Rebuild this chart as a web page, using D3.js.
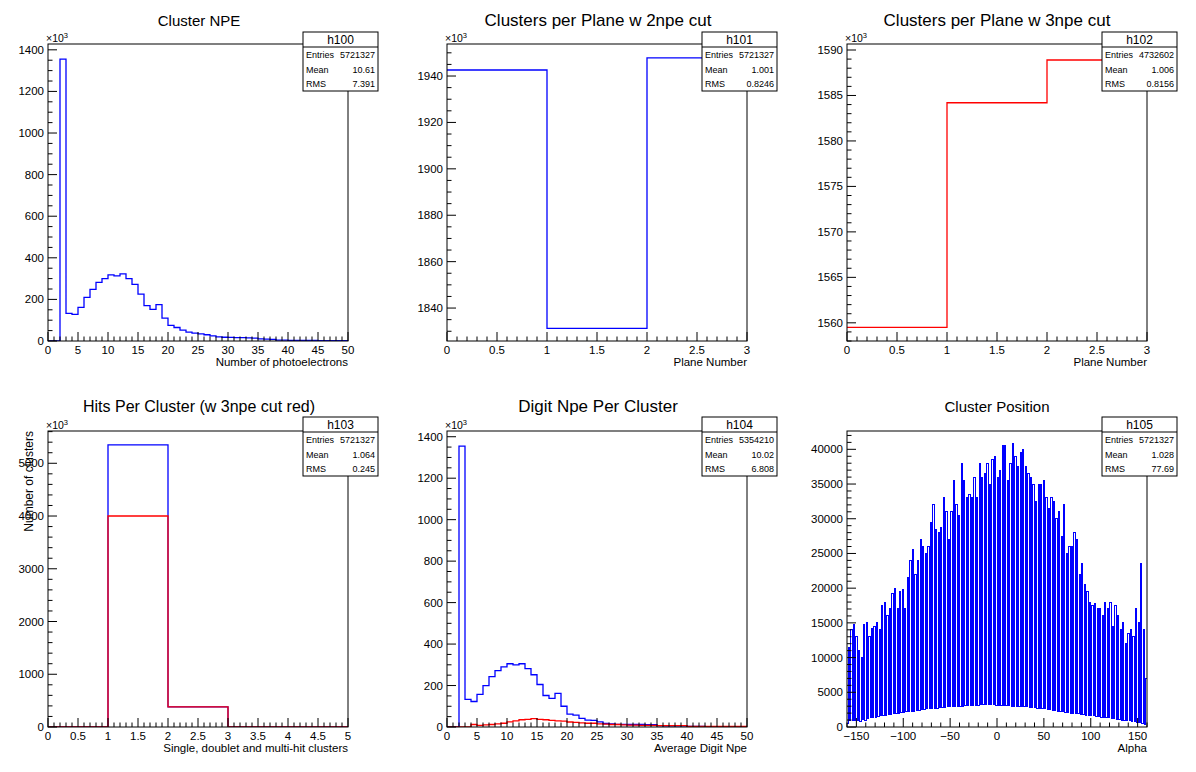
<!DOCTYPE html>
<html><head><meta charset="utf-8">
<script src="https://cdn.jsdelivr.net/npm/d3@7"></script>
<style>body{margin:0;background:#fff}svg{display:block;font-family:"Liberation Sans",Arial,sans-serif}</style>
</head><body><div id="app"></div>
<script>
// h100 Cluster NPE (x10^3), bins of width 1 from 0 to 50
const npe = [0,0,1355,133,128,162,210,248,282,300,318,313,323,300,272,225,170,152,175,110,75,65,52,43,38,34,30,25,20,18,17,16,16,15,14,10,9,8,4,4,3,3,3,3,3,2,2,2,2,2]
// h101 / h102 clusters per plane (x10^3)
const plane2 = [1942.6, 1831.2, 1947.8]
const plane3 = [1559.5, 1584.2, 1588.9]
// h103 hits per cluster (x10^3), bins of width 1 from 0 to 5
const hitsAll = [0, 5350, 380, 0, 0]
const hitsCut = [0, 4000, 380, 0, 0]
// h104 digit npe per cluster (x10^3)
const digitAll = [0,0,1355,133,123,157,200,243,272,290,305,300,305,282,252,205,152,138,162,100,62,57,42,33,32,25,17,15,13,13,12,12,12,11,11,7,6,6,5,5,3,3,3,2,2,2,2,2,2,2]
const digitCut = [0,0,0,0,12,8,10,12,15,18,25,30,35,37,40,37,35,32,30,28,24,22,20,18,18,15,14,12,12,10,9,9,8,8,8,7,7,7,7,7,3,3,3,3,3,3,3,3,3,3]
// h105 cluster position: alternating low / high bins from -160 to 160
const posPeaks = [11500,14000,14800,13000,11000,10000,14800,15000,13000,14200,
  14500,15000,14000,17500,18000,16000,17000,19200,20000,17000,
  19500,19800,17000,21500,24000,25500,22000,24000,27000,26000,
  25000,26000,29500,32000,28500,28000,28800,33000,31000,27000,
  31000,35500,32000,30500,38000,35500,33000,33500,33000,36000,
  33000,38000,36000,36500,38000,35000,38500,39000,36000,37000,
  40500,40500,35500,38000,40800,39000,37500,39500,40000,37500,
  36500,36000,35000,32500,35000,35000,35500,33000,31500,33000,
  32500,30000,31000,27500,32000,25000,26000,26000,28000,27000,
  22000,23500,20500,19500,18000,17500,17800,17000,17000,16000,
  18000,17000,18000,14500,17500,16000,14000,15000,12000,13500,
  14000,13000,17000,15000,23500,14000,7000]
const posTroughs = [500,900,1000,1000,900,800,1100,1000,1200,1300,
  1400,1400,1500,1600,1700,1700,1800,1800,1900,1900,
  2000,2100,2100,2200,2200,2300,2300,2400,2400,2500,
  2500,2600,2600,2700,2700,2700,2800,2800,2800,2900,
  2900,2900,3000,3000,3000,3000,3100,3100,3100,3100,
  3100,3100,3200,3200,3200,3200,3200,3200,3100,3100,
  3100,3100,3100,3100,3000,3000,3000,3000,2900,2900,
  2900,2800,2800,2800,2700,2700,2600,2600,2500,2500,
  2400,2400,2300,2300,2200,2100,2100,2000,2000,1900,
  1900,1800,1800,1700,1700,1600,1600,1500,1500,1400,
  1400,1300,1300,1200,1200,1100,1100,1000,1000,900,
  900,800,800,700,600,500,400]
const posValues = posTroughs.flatMap((t, i) => [t, posPeaks[i]])

const width = 1196, height = 772
const svg = d3.select('#app').append('svg').attr('width', width).attr('height', height)

const edges = (lo, hi, n) => d3.range(n + 1).map(i => lo + (hi - lo) * i / n)

const panels = [
  {ox: 0, oy: 0, title: 'Cluster NPE', ts: 15, name: 'h100', stats: ['5721327', '10.61', '7.391'],
   x: [0, 50], y: [0, 1428], xMaj: 5, xMin: 1, yMaj: 200, yMin: 50, exp: true, xlabel: 'Number of photoelectrons',
   series: [{v: npe, c: '#0000ff'}], nx: 50},
  {ox: 399, oy: 0, title: 'Clusters per Plane w 2npe cut', ts: 17, name: 'h101', stats: ['5721327', '1.001', '0.8246'],
   x: [0, 3], y: [1825.8, 1953.8], xMaj: 0.5, xMin: 0.1, yMaj: 20, yMin: 5, exp: true, xlabel: 'Plane Number',
   series: [{v: plane2, c: '#0000ff'}], nx: 3},
  {ox: 798, oy: 0, title: 'Clusters per Plane w 3npe cut', ts: 17, name: 'h102', stats: ['4732602', '1.006', '0.8156'],
   x: [0, 3], y: [1558.0, 1590.66], xMaj: 0.5, xMin: 0.1, yMaj: 5, yMin: 1, exp: true, xlabel: 'Plane Number',
   series: [{v: plane3, c: '#ff0000'}], nx: 3},
  {ox: 0, oy: 386, title: 'Hits Per Cluster (w 3npe cut red)', ts: 16, name: 'h103', stats: ['5721327', '1.064', '0.245'],
   x: [0, 5], y: [0, 5612], xMaj: 0.5, xMin: 0.1, yMaj: 1000, yMin: 200, exp: true, xlabel: 'Single, doublet and multi-hit clusters',
   ylabel: 'Number of clusters', series: [{v: hitsAll, c: '#0000ff'}, {v: hitsCut, c: '#ff0000'}], nx: 5},
  {ox: 399, oy: 386, title: 'Digit Npe Per Cluster', ts: 17, name: 'h104', stats: ['5354210', '10.02', '6.808'],
   x: [0, 50], y: [0, 1427.6], xMaj: 5, xMin: 1, yMaj: 200, yMin: 50, exp: true, xlabel: 'Average Digit Npe',
   series: [{v: digitAll, c: '#0000ff'}, {v: digitCut, c: '#ff0000'}], nx: 50},
  {ox: 798, oy: 386, title: 'Cluster Position', ts: 15, name: 'h105', stats: ['5721327', '1.028', '77.69'],
   x: [-160, 160], y: [0, 42640], xMaj: 50, xMin: 10, yMaj: 5000, yMin: 1000, exp: false, xlabel: 'Alpha',
   series: [{v: posValues, c: '#0000ff', w: 1, crisp: true}], nx: posValues.length}
]

const fmt = v => {
  const r = Math.round(v * 1000) / 1000
  return String(r).replace('-', '\u2212')
}

panels.forEach((p, pi) => {
  const L = p.ox + 48 + (pi % 3 === 2 ? 1 : 0), R = L + 300
  const T = p.oy + 44 + (p.oy ? 1 : 0), B = p.oy + 341
  const g = svg.append('g')
  const sx = d3.scaleLinear().domain(p.x).range([L, R])
  const sy = d3.scaleLinear().domain(p.y).range([B, T])
  const clipId = 'clip' + pi
  g.append('clipPath').attr('id', clipId).append('rect').attr('x', L).attr('y', T).attr('width', R - L).attr('height', B - T)

  // histogram outlines
  p.series.forEach(s => {
    const e = edges(p.x[0], p.x[1], p.nx)
    const pts = []
    s.v.forEach((v, i) => { pts.push([e[i], v]); pts.push([e[i + 1], v]) })
    g.append('path')
      .attr('clip-path', `url(#${clipId})`)
      .attr('d', d3.line().x(d => sx(d[0])).y(d => sy(Math.max(d[1], p.y[0]))) (pts))
      .attr('fill', 'none').attr('stroke', s.c).attr('stroke-width', s.w || 1.3)
      .attr('shape-rendering', s.crisp ? 'crispEdges' : null)
  })

  // frame
  g.append('rect').attr('x', L).attr('y', T).attr('width', R - L).attr('height', B - T)
    .attr('fill', 'none').attr('stroke', '#000').attr('stroke-width', 1)

  // x ticks (inside, pointing up)
  const xMinor = d3.range(Math.ceil(p.x[0] / p.xMin), Math.floor(p.x[1] / p.xMin) + 1).map(k => k * p.xMin)
  xMinor.forEach(v => {
    const major = Math.abs(v / p.xMaj - Math.round(v / p.xMaj)) < 1e-6
    g.append('line').attr('x1', sx(v)).attr('x2', sx(v)).attr('y1', B).attr('y2', B - (major ? 9 : 4.5))
      .attr('stroke', '#000')
    if (major) g.append('text').attr('x', sx(v)).attr('y', B + 13).attr('text-anchor', 'middle')
      .attr('font-size', 11.5).text(fmt(v))
  })
  // y ticks (inside, pointing right)
  const yMinor = d3.range(Math.ceil(p.y[0] / p.yMin), Math.floor(p.y[1] / p.yMin) + 1).map(k => k * p.yMin)
  yMinor.forEach(v => {
    const major = Math.abs(v / p.yMaj - Math.round(v / p.yMaj)) < 1e-6
    g.append('line').attr('x1', L).attr('x2', L + (major ? 9 : 4.5)).attr('y1', sy(v)).attr('y2', sy(v))
      .attr('stroke', '#000')
    if (major) g.append('text').attr('x', L - 4).attr('y', sy(v) + 4).attr('text-anchor', 'end')
      .attr('font-size', 11.5).text(fmt(v))
  })
  if (p.exp) {
    const t = g.append('text').attr('x', L - 2).attr('y', T - 2).attr('font-size', 10.5)
    t.append('tspan').text('\u00d710')
    t.append('tspan').attr('dy', -4).attr('font-size', 7.5).text('3')
  }
  g.append('text').attr('x', R).attr('y', B + 25).attr('text-anchor', 'end').attr('font-size', 11.5).text(p.xlabel)
  if (p.ylabel) g.append('text').attr('transform', `translate(${L - 15},${T}) rotate(-90)`)
    .attr('text-anchor', 'end').attr('font-size', 12).text(p.ylabel)

  // title
  g.append('text').attr('x', p.ox + 199).attr('y', p.oy + 26).attr('text-anchor', 'middle')
    .attr('font-size', p.ts).text(p.title)

  // stats box
  const bx = R - 45, bw = 75, by = p.oy + 32 - (p.oy ? 1 : 0), bh = 59
  g.append('rect').attr('x', bx).attr('y', by).attr('width', bw).attr('height', bh)
    .attr('fill', '#fff').attr('stroke', '#000')
  g.append('line').attr('x1', bx).attr('x2', bx + bw).attr('y1', by + 15).attr('y2', by + 15).attr('stroke', '#000')
  g.append('text').attr('x', bx + bw / 2).attr('y', by + 12).attr('text-anchor', 'middle').attr('font-size', 12).text(p.name)
  ;['Entries', 'Mean', 'RMS'].forEach((lab, i) => {
    const yy = by + 26 + i * 14.5
    g.append('text').attr('x', bx + 3).attr('y', yy).attr('font-size', 9).text(lab)
    g.append('text').attr('x', bx + bw - 3).attr('y', yy).attr('text-anchor', 'end').attr('font-size', 9).text(p.stats[i])
  })
})
</script>
</body></html>
